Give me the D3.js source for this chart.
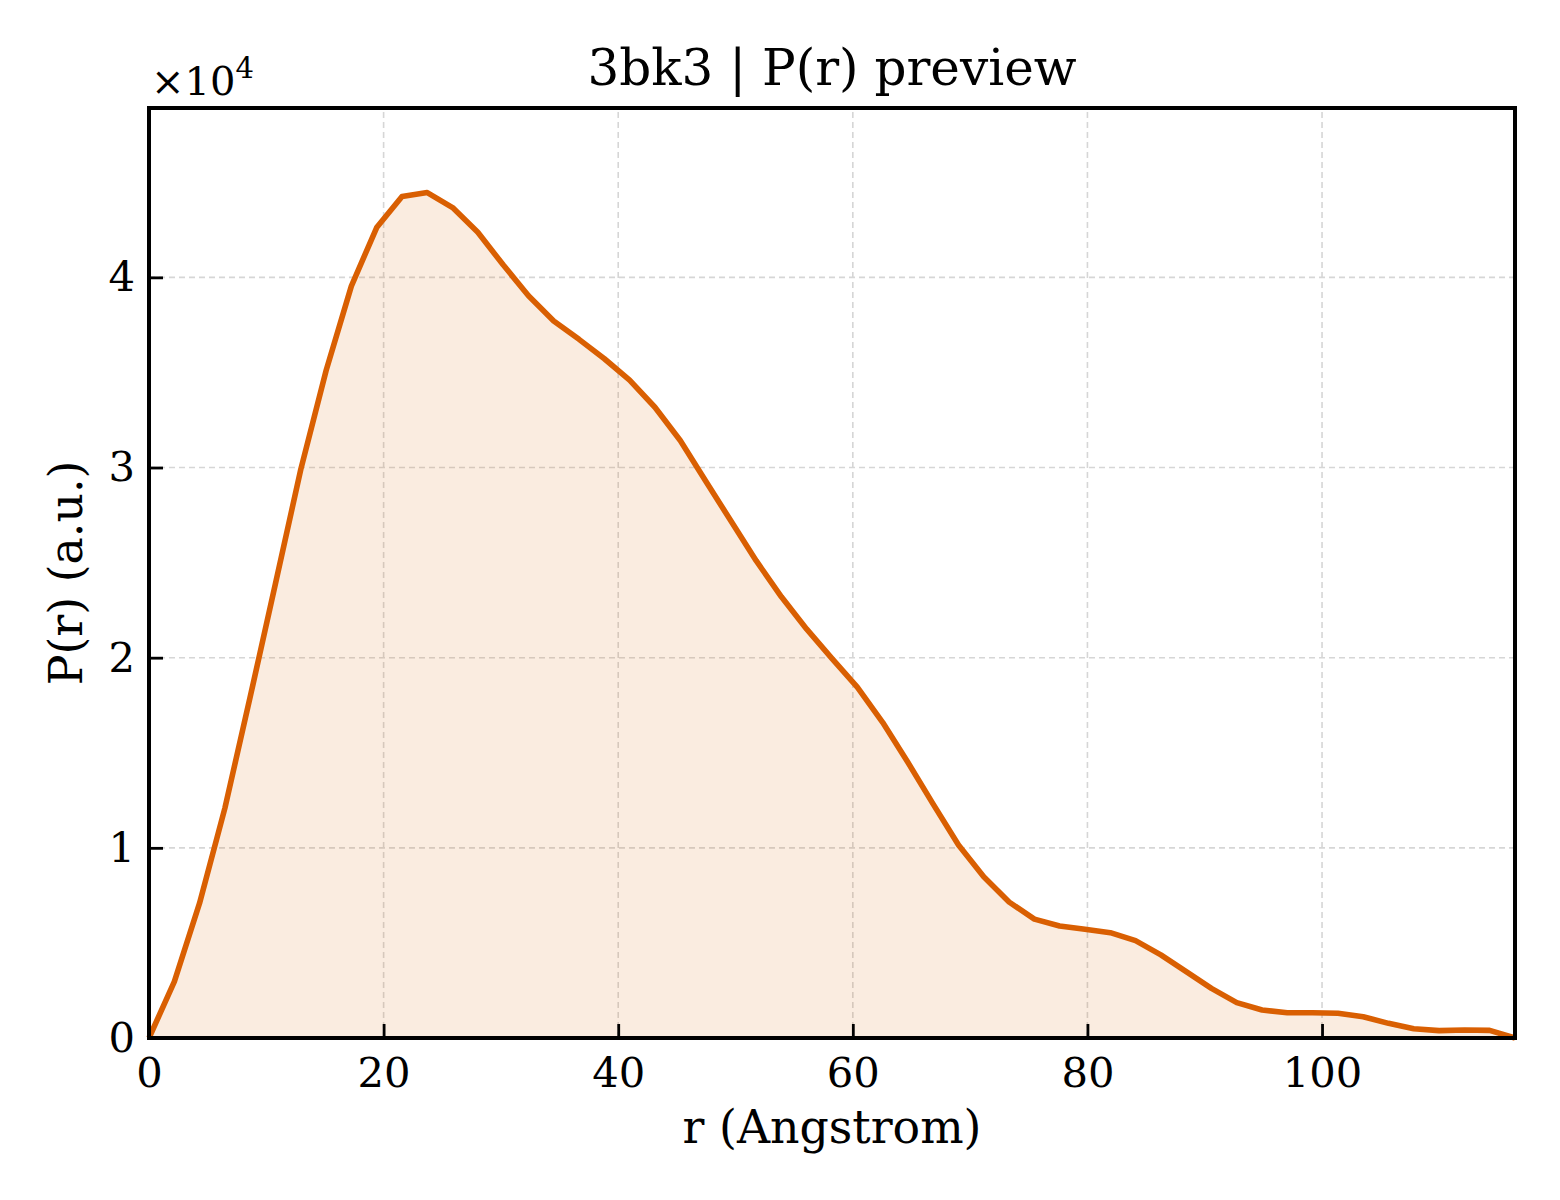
<!DOCTYPE html>
<html>
<head>
<meta charset="utf-8">
<title>3bk3 | P(r) preview</title>
<script src="https://d3js.org/d3.v7.min.js"></script>
<style>
  body { margin: 0; background: #fff; }
  svg text { font-family: "DejaVu Serif", serif; fill: #000; }
</style>
</head>
<body>
<script>

// r values (Angstrom)
var rValues = [0, 2.16, 4.31, 6.47, 8.63, 10.78, 12.94, 15.10, 17.25, 19.41,
  21.57, 23.72, 25.88, 28.03, 30.19, 32.35, 34.50, 36.66, 38.82, 40.97,
  43.13, 45.29, 47.44, 49.60, 51.76, 53.91, 56.07, 58.23, 60.38, 62.54,
  64.69, 66.85, 69.01, 71.16, 73.32, 75.48, 77.63, 79.79, 81.95, 84.10,
  86.26, 88.42, 90.57, 92.73, 94.89, 97.04, 99.20, 101.36, 103.51, 105.67,
  107.82, 109.98, 112.14, 114.29, 116.45]

// P(r) values (a.u.)
var prValues = [0, 2960, 7090, 12090, 17950, 23900, 29900, 35100, 39540, 42620,
  44250, 44460, 43670, 42370, 40660, 39030, 37700, 36740, 35720, 34600,
  33170, 31420, 29300, 27200, 25100, 23200, 21500, 19950, 18450, 16600,
  14500, 12300, 10150, 8480, 7150, 6250, 5890, 5720, 5540, 5120,
  4370, 3490, 2610, 1860, 1470, 1330, 1330, 1300, 1120, 770,
  490, 390, 420, 400, 0]

var xTicks = [0, 20, 40, 60, 80, 100]
var yTicks = [0, 10000, 20000, 30000, 40000]

var width = 1560
var height = 1200
var margin = {left: 149, right: 45, top: 108, bottom: 162}

var svg = d3.select("body").append("svg")
    .attr("width", width)
    .attr("height", height)

var x = d3.scaleLinear()
    .domain([0, d3.max(rValues)])
    .range([margin.left, width - margin.right])

var y = d3.scaleLinear()
    .domain([0, d3.max(prValues) * 1.1])
    .range([height - margin.bottom, margin.top])

var data = rValues.map(function(r, i){ return {r: r, p: prValues[i]} })

// grid
var grid = svg.append("g")
grid.selectAll(".vgrid")
    .data(xTicks)
    .enter()
    .append("line")
    .attr("x1", function(d){ return x(d) })
    .attr("x2", function(d){ return x(d) })
    .attr("y1", y.range()[0])
    .attr("y2", y.range()[1])
    .attr("stroke", "#d6d6d6")
    .attr("stroke-width", 1.6)
    .attr("stroke-dasharray", "6,4")
grid.selectAll(".hgrid")
    .data(yTicks)
    .enter()
    .append("line")
    .attr("x1", x.range()[0])
    .attr("x2", x.range()[1])
    .attr("y1", function(d){ return y(d) })
    .attr("y2", function(d){ return y(d) })
    .attr("stroke", "#d6d6d6")
    .attr("stroke-width", 1.6)
    .attr("stroke-dasharray", "6,4")

// filled area + line
var area = d3.area()
    .x(function(d){ return x(d.r) })
    .y0(y(0))
    .y1(function(d){ return y(d.p) })

var line = d3.line()
    .x(function(d){ return x(d.r) })
    .y(function(d){ return y(d.p) })

svg.append("path")
    .datum(data)
    .attr("d", area)
    .attr("fill", "#d95f02")
    .attr("fill-opacity", 0.12)

svg.append("path")
    .datum(data)
    .attr("d", line)
    .attr("fill", "none")
    .attr("stroke", "#d95f02")
    .attr("stroke-width", 5.6)
    .attr("stroke-linejoin", "round")

// axes, ticks pointing in
var xAxis = d3.axisBottom(x)
    .tickValues(xTicks)
    .tickSize(-14)
    .tickPadding(19)
    .tickFormat(d3.format("d"))

var yAxis = d3.axisLeft(y)
    .tickValues(yTicks)
    .tickSize(-14)
    .tickPadding(14)
    .tickFormat(function(d){ return d / 10000 })

var gx = svg.append("g")
    .attr("transform", "translate(0," + y(0) + ")")
    .call(xAxis)
var gy = svg.append("g")
    .attr("transform", "translate(" + x(0) + ",0)")
    .call(yAxis)

;[gx, gy].forEach(function(g){
    g.select(".domain").remove()
    g.selectAll(".tick line").attr("stroke", "#000").attr("stroke-width", 2.8)
    g.selectAll(".tick text")
        .attr("font-family", "DejaVu Serif")
        .attr("font-size", 41.7)
        .attr("fill", "#000")
})

// frame
svg.append("rect")
    .attr("x", x.range()[0])
    .attr("y", y.range()[1])
    .attr("width", x.range()[1] - x.range()[0])
    .attr("height", y.range()[0] - y.range()[1])
    .attr("fill", "none")
    .attr("stroke", "#000")
    .attr("stroke-width", 4)

// offset text
var off = svg.append("text")
    .attr("x", 151)
    .attr("y", 95)
    .attr("font-size", 40)
off.append("tspan").text("\u00d710")
off.append("tspan")
    .attr("dy", -17)
    .attr("font-size", 29)
    .text("4")

// title and labels
svg.append("text")
    .attr("x", (x.range()[0] + x.range()[1]) / 2)
    .attr("y", 85)
    .attr("text-anchor", "middle")
    .attr("font-size", 50)
    .text("3bk3 | P(r) preview")

svg.append("text")
    .attr("x", (x.range()[0] + x.range()[1]) / 2)
    .attr("y", 1143)
    .attr("text-anchor", "middle")
    .attr("font-size", 45.8)
    .text("r (Angstrom)")

svg.append("text")
    .attr("transform", "translate(82," + ((y.range()[0] + y.range()[1]) / 2) + ") rotate(-90)")
    .attr("text-anchor", "middle")
    .attr("font-size", 45.8)
    .text("P(r) (a.u.)")

</script>
</body>
</html>
